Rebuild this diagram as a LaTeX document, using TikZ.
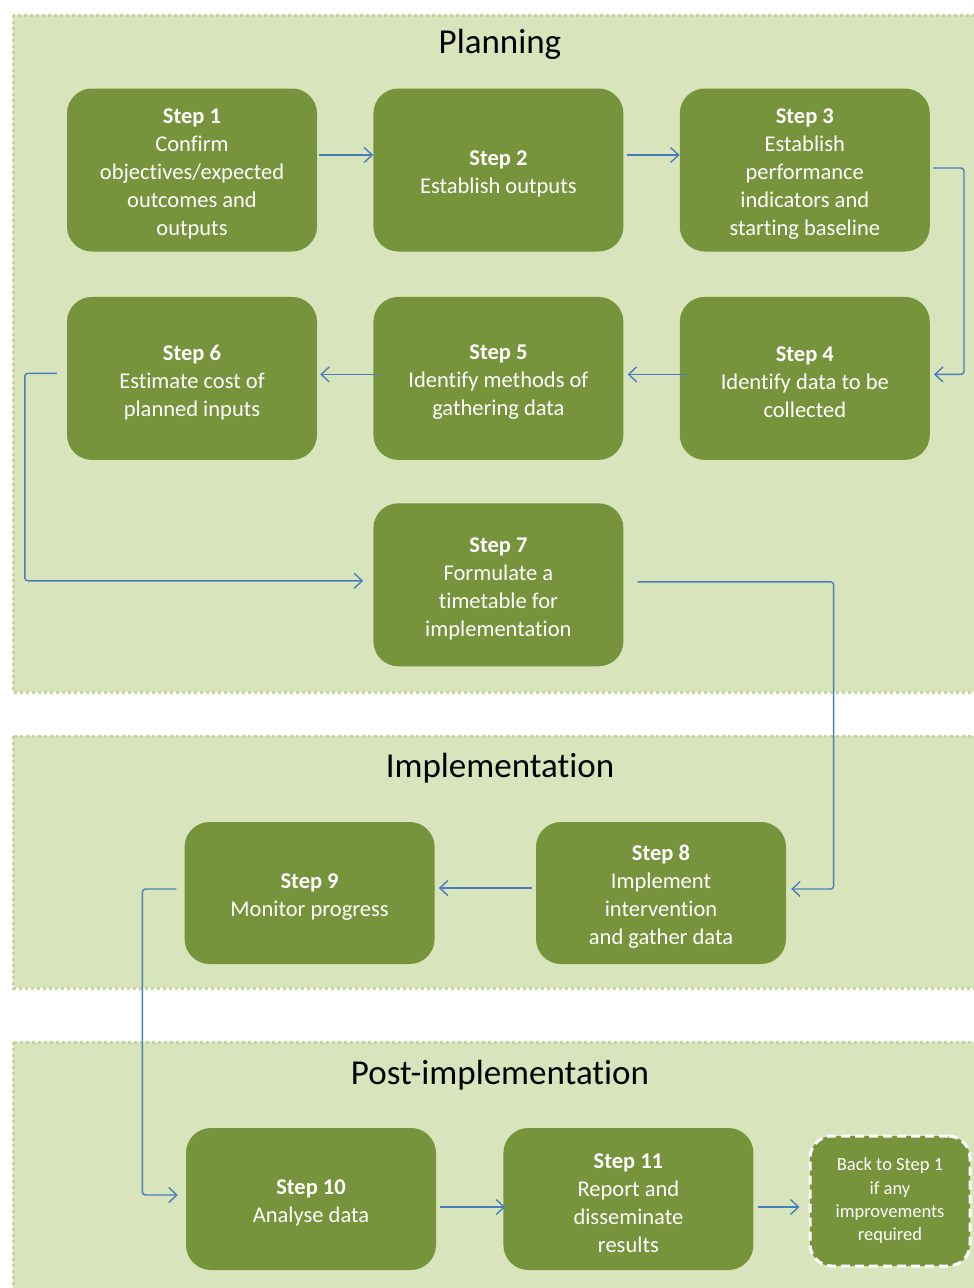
\documentclass[tikz,border=0pt]{standalone}
\usepackage{fontspec}
\setmainfont{Carlito}[Ligatures={NoCommon,NoRequired}]
\usetikzlibrary{positioning, arrows.meta}
\definecolor{panelfill}{RGB}{216,228,188}
\definecolor{paneledge}{RGB}{195,214,155}
\definecolor{boxgreen}{RGB}{119,147,60}
\definecolor{flowblue}{RGB}{74,126,187}
\newcommand{\stephead}[1]{\rule{0pt}{23pt}\textbf{Step #1}}

\begin{document}
\begin{tikzpicture}[
  x=1pt, y=-1pt,
  panel/.style={fill=panelfill, draw=paneledge, line width=3pt,
                dash pattern=on 3pt off 3pt},
  paneltitle/.style={anchor=base, font=\fontsize{35}{42}\selectfont},
  stepbox/.style={rounded corners=25pt, fill=boxgreen, text=white,
                  minimum width=250pt, minimum height=163pt, align=center,
                  inner sep=0pt, font=\fontsize{22.5}{28}\selectfont},
  lowbox/.style={stepbox, minimum height=142pt},
  backbox/.style={stepbox, draw=white, line width=3pt, dash pattern=on 9pt off 5pt,
                  rounded corners=22pt, minimum width=160pt, minimum height=130pt,
                  font=\fontsize{18.5}{23.3}\selectfont},
  arr/.style={-{Straight Barb[length=8pt, width=15pt]}, draw=flowblue, line width=1.4pt},
  elbow/.style={arr, rounded corners=3pt},
]
  \useasboundingbox (0,0) rectangle (974,1288);

  % the three phases
  \draw[panel] (13,15) rectangle (990,692);
  \draw[panel] (13,736) rectangle (990,988);
  \draw[panel] (13,1042) rectangle (990,1300);
  \node[paneltitle] (tplan) at (500,53) {Planning};
  \node[paneltitle] (timpl) at (500,777) {Implementation};
  \node[paneltitle] (tpost) at (500,1084) {Post-implementation};

  % planning
  \node[stepbox] (s1) at (192,170)
    {\stephead{1}\\Confirm\\objectives/expected\\outcomes and\\outputs};
  \node[stepbox, right=56pt of s1] (s2) {\stephead{2}\\Establish outputs};
  \node[stepbox, right=56pt of s2] (s3)
    {\stephead{3}\\Establish\\performance\\indicators and\\starting baseline};
  \node[stepbox, below=45pt of s3] (s4) {\stephead{4}\\Identify data to be\\collected};
  \node[stepbox, left=56pt of s4] (s5) {\stephead{5}\\Identify methods  of\\gathering data};
  \node[stepbox, left=56pt of s5] (s6) {\stephead{6}\\Estimate cost of\\planned inputs};
  \node[stepbox, below=43pt of s5] (s7)
    {\stephead{7}\\Formulate a\\timetable for\\implementation};

  % implementation
  \node[lowbox] (s8) at (661,893)
    {\stephead{8}\\Implement\\intervention\\and gather data};
  \node[lowbox, left=101pt of s8] (s9) {\stephead{9}\\Monitor progress};

  % post-implementation
  \node[lowbox] (s10) at (311,1199) {\stephead{10}\\Analyse data};
  \node[lowbox, right=67pt of s10] (s11) {\stephead{11}\\Report and\\disseminate\\results};
  \node[backbox] (back) at (890,1201) {Back to Step 1\\if any\\improvements\\required};

  % flow
  \draw[arr] ([shift={(2pt,15pt)}]s1.east) -- ([yshift=15pt]s2.west);
  \draw[arr] ([shift={(3pt,15pt)}]s2.east) -- ([yshift=15pt]s3.west);
  \draw[elbow] ([shift={(3pt,2pt)}]s3.east) -- ++(31pt,0) |- ([shift={(4pt,4pt)}]s4.east);
  \draw[arr] ([shift={(8pt,4pt)}]s4.west) -- ([shift={(4pt,4pt)}]s5.east);
  \draw[arr] ([shift={(6pt,4pt)}]s5.west) -- ([shift={(3pt,4pt)}]s6.east);
  \draw[elbow] ([shift={(-10pt,5pt)}]s6.west) -- ++(-32pt,0) |- ([shift={(-10pt,4pt)}]s7.west);
  \draw[elbow] ([shift={(14pt,3pt)}]s7.east) -- ++(196pt,0) |- ([shift={(5pt,4pt)}]s8.east);
  \draw[arr] ([shift={(-4pt,5pt)}]s8.west) -- ([shift={(4pt,5pt)}]s9.east);
  \draw[elbow] ([shift={(-8pt,4pt)}]s9.west) -- ++(-34pt,0) |- ([shift={(-8pt,4pt)}]s10.west);
  \draw[arr] ([shift={(4pt,-8pt)}]s10.east) -- ([shift={(2pt,-8pt)}]s11.west);
  \draw[arr] ([shift={(4pt,-8pt)}]s11.east) -- ([shift={(-9pt,-6pt)}]back.west);
\end{tikzpicture}
\end{document}
